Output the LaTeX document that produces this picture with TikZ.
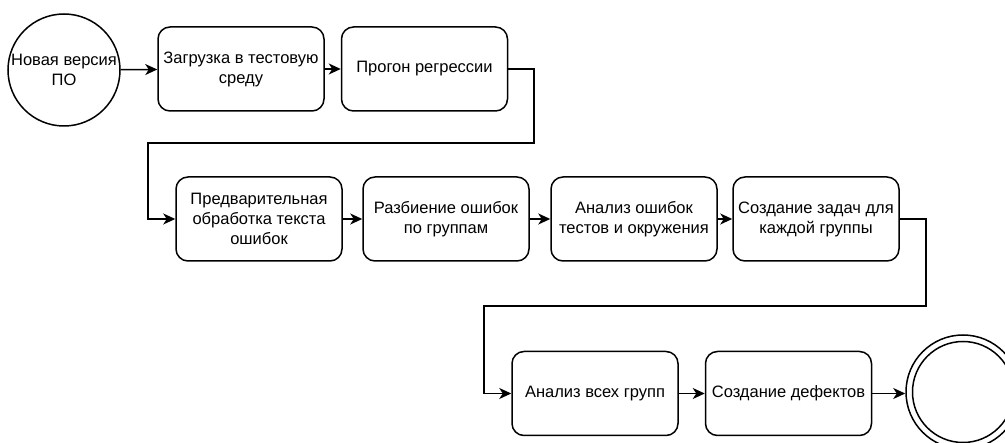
\documentclass[tikz,border=0pt]{standalone}
\usepackage{fontspec}
\setmainfont{Liberation Sans}
\usetikzlibrary{arrows.meta}
\begin{document}
\begin{tikzpicture}[x=1pt,y=-1pt,
  txt/.style={font=\fontsize{16.5}{20}\selectfont, align=center},
  stepbox/.style={txt, draw, line width=1.5pt, rounded corners=12pt,
    minimum width=166pt, minimum height=84pt, inner sep=1pt},
  startnode/.style={txt, draw, circle, line width=1.5pt, minimum size=112pt, inner sep=0pt},
  endouter/.style={draw, circle, line width=1.5pt, minimum size=114pt, inner sep=0pt},
  endinner/.style={draw, circle, line width=1.5pt, minimum size=101pt, inner sep=0pt},
  flow/.style={draw, line width=1.5pt, -{Stealth[length=12pt, width=11pt, inset=3.5pt]}}
]
\useasboundingbox (0,0) rectangle (1005,443);

% first row
\node[startnode] (start) at (64,70) {Новая версия\\ПО};
\node[stepbox] (upload) at (241,69) {Загрузка в тестовую\\среду};
\node[stepbox] (regress) at (424.5,69) {Прогон регрессии};

% second row
\node[stepbox] (prep) at (259,219) {Предварительная\\обработка текста\\ошибок};
\node[stepbox] (split) at (446,219) {Разбиение ошибок\\по группам};
\node[stepbox] (analyse) at (634,219) {Анализ ошибок\\тестов и окружения};
\node[stepbox] (tasks) at (816,219) {Создание задач для\\каждой группы};

% third row
\node[stepbox] (allgroups) at (595,393.5) {Анализ всех групп};
\node[stepbox] (defects) at (788.5,393.5) {Создание дефектов};
\node[endouter] (finish) at (963,392) {};
\node[endinner] (finishin) at (963,392) {};

% connectors
\draw[flow] (start) -- (upload);
\draw[flow] (upload) -- (regress);
\draw[flow] (regress.east) -- (534,69) -- (534,143) -- (148,143) |- (prep.west);
\draw[flow] (prep) -- (split);
\draw[flow] (split) -- (analyse);
\draw[flow] (analyse) -- (tasks);
\draw[flow] (tasks.east) -- (926,219) -- (926,306) -- (484,306) |- (allgroups.west);
\draw[flow] (allgroups) -- (defects);
\draw[flow] (defects.east) -- (finish.west |- defects.east);
\end{tikzpicture}
\end{document}
